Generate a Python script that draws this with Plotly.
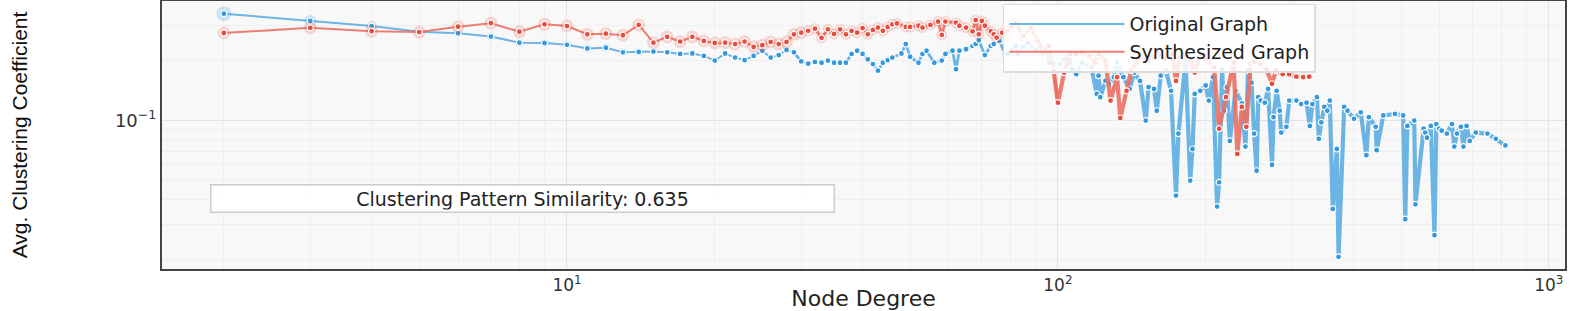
import plotly.graph_objects as go

# ---------------- data ----------------
orig_degree = [2, 3, 4, 5, 6, 7, 8, 9, 10, 11, 12, 13, 14, 15, 16, 17, 18, 19, 20, 21,
               22, 23, 24, 25, 26, 27, 28, 29, 30, 31, 32, 33, 34, 35, 36, 37, 38, 39, 40, 41,
               42, 43, 44, 45, 46, 48, 49, 50, 52, 53, 54, 56, 58, 59, 61, 62, 63, 65, 67, 68,
               69, 71, 73, 74, 76, 78, 79, 82, 83, 85, 87, 90, 92, 95, 96, 101, 105, 107, 109, 112,
               117, 120, 121, 122, 125, 127, 130, 132, 136, 140, 143, 147, 151, 153, 157, 159, 162, 166, 170, 174,
               176, 182, 186, 188, 190, 195, 200, 203, 207, 211, 213, 216, 218, 221, 224, 230, 237, 241, 244, 248,
               251, 254, 256, 259, 264, 268, 273, 275, 279, 283, 285, 292, 296, 306, 313, 321, 326, 330, 337, 340,
               344, 349, 354, 358, 363, 370, 373, 383, 389, 401, 414, 425, 430, 444, 446, 460, 486, 505, 510, 515,
               532, 535, 556, 560, 565, 575, 585, 590, 598, 605, 620, 635, 642, 650, 662, 670, 680, 690, 710, 750,
               780, 816]
orig_cc = [0.344, 0.316, 0.298, 0.279, 0.274, 0.264, 0.246, 0.245, 0.240, 0.230, 0.232, 0.220, 0.221, 0.222, 0.220, 0.216, 0.217, 0.211, 0.200, 0.217,
           0.207, 0.201, 0.211, 0.224, 0.207, 0.213, 0.226, 0.220, 0.198, 0.193, 0.197, 0.195, 0.200, 0.195, 0.195, 0.195, 0.216, 0.224, 0.216, 0.203,
           0.192, 0.178, 0.195, 0.201, 0.207, 0.217, 0.242, 0.209, 0.195, 0.216, 0.224, 0.195, 0.200, 0.216, 0.224, 0.181, 0.224, 0.228, 0.237, 0.242,
           0.253, 0.213, 0.237, 0.242, 0.251, 0.216, 0.216, 0.237, 0.216, 0.234, 0.245, 0.224, 0.240, 0.220, 0.195, 0.192, 0.216, 0.181, 0.171, 0.195,
           0.185, 0.136, 0.168, 0.131, 0.158, 0.153, 0.165, 0.195, 0.165, 0.144, 0.174, 0.158, 0.100, 0.147, 0.144, 0.112, 0.168, 0.178, 0.141, 0.042,
           0.086, 0.200, 0.050, 0.072, 0.136, 0.141, 0.150, 0.126, 0.165, 0.037, 0.049, 0.181, 0.112, 0.147, 0.079, 0.141, 0.122, 0.074, 0.178, 0.155,
           0.086, 0.056, 0.131, 0.126, 0.123, 0.144, 0.060, 0.104, 0.141, 0.112, 0.087, 0.093, 0.126, 0.126, 0.121, 0.123, 0.094, 0.121, 0.131, 0.081,
           0.098, 0.117, 0.112, 0.126, 0.036, 0.072, 0.0207, 0.117, 0.112, 0.102, 0.110, 0.067, 0.104, 0.093, 0.071, 0.106, 0.108, 0.106, 0.032, 0.094,
           0.100, 0.038, 0.091, 0.087, 0.082, 0.094, 0.0266, 0.096, 0.091, 0.089, 0.086, 0.096, 0.074, 0.086, 0.093, 0.074, 0.094, 0.079, 0.087, 0.086,
           0.081, 0.075]

synth_degree = [2, 3, 4, 5, 6, 7, 8, 9, 10, 11, 12, 13, 14, 15, 16, 17, 18, 19, 20, 21,
                22, 23, 24, 25, 26, 27, 28, 29, 30, 31, 32, 33, 34, 35, 36, 37, 38, 39, 40, 41,
                42, 43, 44, 45, 46, 47, 49, 50, 52, 53, 55, 57, 58, 59, 62, 63, 65, 67, 68, 69,
                70, 71, 73, 74, 75, 77, 79, 82, 85, 88, 91, 93, 96, 98, 100, 103, 106, 109, 112, 116,
                119, 121, 125, 128, 132, 134, 138, 141, 147, 153, 159, 165, 171, 174, 177, 184, 190, 195, 200, 208,
                213, 220, 228, 232, 237, 242, 247, 251, 258, 266, 273, 278, 287, 296, 306, 316, 325]
synth_cc = [0.275, 0.292, 0.281, 0.278, 0.296, 0.308, 0.279, 0.304, 0.298, 0.271, 0.273, 0.268, 0.302, 0.246, 0.263, 0.249, 0.263, 0.251, 0.245, 0.246,
            0.242, 0.249, 0.234, 0.239, 0.248, 0.242, 0.248, 0.271, 0.276, 0.282, 0.289, 0.260, 0.287, 0.272, 0.287, 0.271, 0.282, 0.276, 0.291, 0.271,
            0.285, 0.293, 0.282, 0.295, 0.304, 0.307, 0.295, 0.295, 0.299, 0.293, 0.302, 0.314, 0.269, 0.314, 0.310, 0.299, 0.293, 0.280, 0.319, 0.271,
            0.316, 0.299, 0.280, 0.271, 0.261, 0.276, 0.282, 0.309, 0.266, 0.292, 0.251, 0.220, 0.237, 0.178, 0.123, 0.174, 0.216, 0.216, 0.220, 0.211,
            0.195, 0.216, 0.200, 0.126, 0.165, 0.103, 0.141, 0.178, 0.207, 0.200, 0.220, 0.204, 0.216, 0.158, 0.207, 0.216, 0.174, 0.216, 0.203, 0.185,
            0.091, 0.131, 0.195, 0.068, 0.117, 0.093, 0.193, 0.197, 0.193, 0.181, 0.153, 0.178, 0.171, 0.171, 0.166, 0.165, 0.166]

similarity = 0.635
x_ticks = [10, 100, 1000]
x_ticktext = ["10<sup>1</sup>", "10<sup>2</sup>", "10<sup>3</sup>"]
y_ticks = [0.1]
y_ticktext = ["10<sup>\u22121</sup>"]

# ---------------- style ----------------
BLUE_LINE, BLUE_MARK = "#5DADE2", "#3498DB"
RED_LINE, RED_MARK = "#EC7063", "#E74C3C"
TXT_FONT = "DejaVu Sans, Verdana, sans-serif"

fig = go.Figure()


def add_series(deg, cc, name, line_color, mark_color, halo_rgba, halo_size):
    # line drawn in degree bands (thicker for the steep high-degree part)
    bands = [(0, 30, 2.0), (30, 100, 2.8), (100, 10000, 4.2)]
    first = True
    for lo, hi, w in bands:
        xs = [d for d in deg if lo <= d <= hi]
        ys = [c for d, c in zip(deg, cc) if lo <= d <= hi]
        prev = [(d, c) for d, c in zip(deg, cc) if d < lo]
        if prev:
            xs = [prev[-1][0]] + xs
            ys = [prev[-1][1]] + ys
        if len(xs) < 2:
            continue
        fig.add_trace(go.Scatter(
            x=xs, y=ys, mode="lines", name=name, legendgroup=name,
            showlegend=first, line=dict(color=line_color, width=w),
            opacity=0.9, hoverinfo="skip"))
        first = False
    fig.add_trace(go.Scatter(
        x=deg, y=cc, mode="markers", showlegend=False, legendgroup=name,
        marker=dict(size=[halo_size(d) for d in deg], color=halo_rgba, line=dict(width=0)),
        hoverinfo="skip"))
    fig.add_trace(go.Scatter(
        x=deg, y=cc, mode="markers", showlegend=False, legendgroup=name,
        marker=dict(size=6, color=mark_color, line=dict(color="white", width=1.2))))


add_series(orig_degree, orig_cc, "Original Graph", BLUE_LINE, BLUE_MARK,
           "rgba(52,152,219,0.30)",
           lambda d: 15 if d == 2 else 12 if d == 3 else 10 if d == 4 else 8 if d <= 14 else 0)
add_series(synth_degree, synth_cc, "Synthesized Graph", RED_LINE, RED_MARK,
           "rgba(231,76,60,0.28)",
           lambda d: 13 if d <= 30 else 11 if d <= 95 else 0)

fig.add_annotation(
    text=f"Clustering Pattern Similarity: {similarity:.3f}",
    xref="paper", yref="paper", x=0.2566, y=0.264, xanchor="center", yanchor="middle",
    showarrow=False, width=618, height=22,
    font=dict(family=TXT_FONT, size=19, color="#222222"),
    bgcolor="rgba(255,255,255,0.9)", bordercolor="#CCCCCC", borderwidth=1.5, borderpad=2)

minor_x = [2, 3, 4, 5, 6, 7, 8, 9, 20, 30, 40, 50, 60, 70, 80, 90,
           200, 300, 400, 500, 600, 700, 800, 900]
minor_y = [0.02, 0.03, 0.04, 0.05, 0.06, 0.07, 0.08, 0.09, 0.2, 0.3]

fig.update_layout(
    width=1577, height=311,
    margin=dict(l=162, r=12, t=1, b=42, autoexpand=False),
    paper_bgcolor="white", plot_bgcolor="#F8F8F8",
    showlegend=True,
    legend=dict(orientation="v", x=0.5994, y=0.99, xanchor="left", yanchor="top",
                bgcolor="rgba(255,255,255,0.85)", bordercolor="#DDDDDD", borderwidth=1.5,
                font=dict(family=TXT_FONT, size=19, color="#222222"),
                tracegroupgap=0, itemwidth=115),
    xaxis=dict(type="log", range=[0.175, 3.033], automargin=False,
               tickvals=x_ticks, ticktext=x_ticktext, ticks="",
               tickfont=dict(family=TXT_FONT, size=17, color="#333333"),
               showgrid=True, gridcolor="#E4E4E4", gridwidth=1,
               minor=dict(tickvals=minor_x, showgrid=True, gridcolor="#EFEFEF", gridwidth=1),
               showline=True, linecolor="#444444", linewidth=2, mirror=True, zeroline=False,
               title=dict(text="Node Degree", standoff=0,
                          font=dict(family=TXT_FONT, size=22, color="#222222"))),
    yaxis=dict(type="log", range=[-1.745, -0.4], automargin=False,
               tickvals=y_ticks, ticktext=y_ticktext, ticks="",
               tickfont=dict(family=TXT_FONT, size=18, color="#333333"),
               showgrid=True, gridcolor="#E4E4E4", gridwidth=1,
               minor=dict(tickvals=minor_y, showgrid=True, gridcolor="#EFEFEF", gridwidth=1),
               showline=True, linecolor="#444444", linewidth=2, mirror=True, zeroline=False,
               title=dict(text="Avg. Clustering Coefficient", standoff=82,
                          font=dict(family="Liberation Sans Narrow, Liberation Sans, Arial Narrow, sans-serif",
                                    size=21, color="#111111"))),
)

fig.write_html("out.html", config={"displayModeBar": False},
               post_script="document.body.style.margin='0';document.body.style.overflow='hidden';")
